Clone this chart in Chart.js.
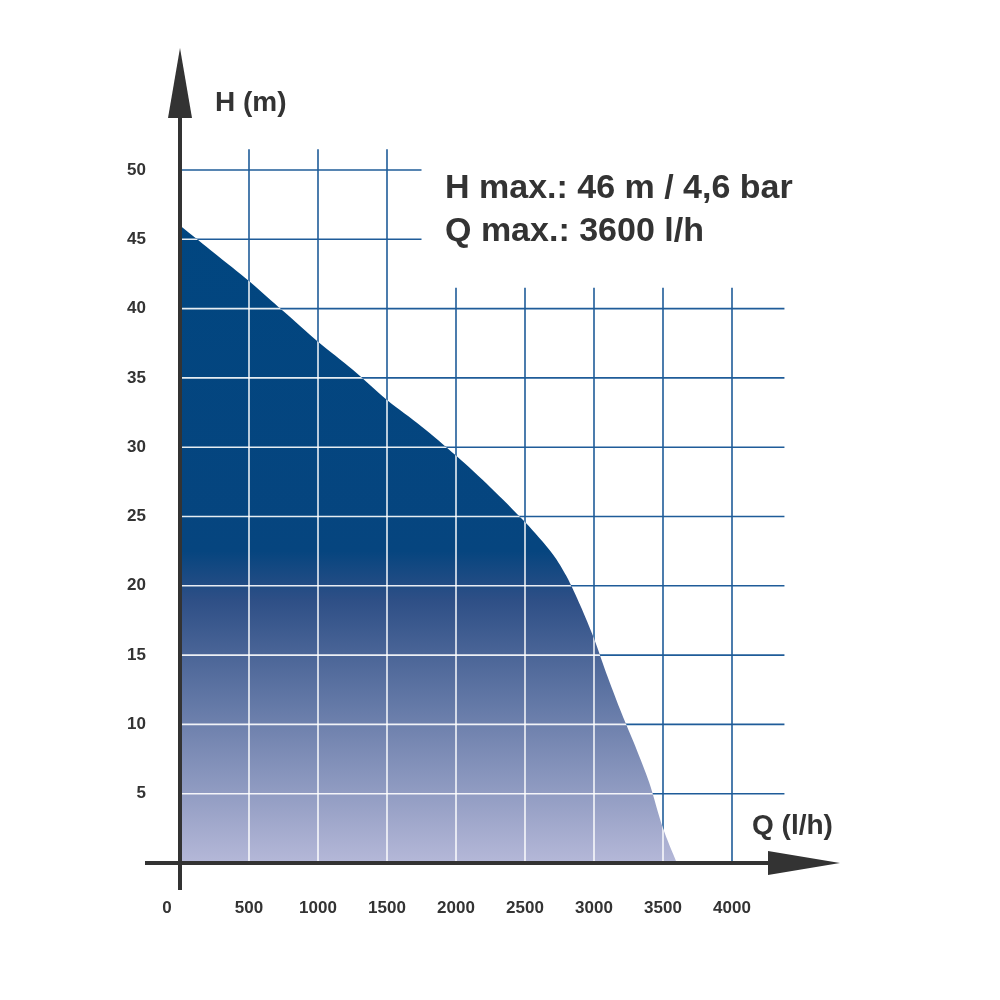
<!DOCTYPE html>
<html><head><meta charset="utf-8">
<script src="https://cdn.jsdelivr.net/npm/chart.js@4"></script>
<style>html,body{margin:0;background:#fff}#c{width:1000px;height:1000px}</style>
</head><body><div id="c"><canvas id="cv" width="1000" height="1000"></canvas></div>
<script>
const flowQ = [0, 250, 500, 750, 1000, 1250, 1500, 1750, 2000, 2250, 2500, 2700, 2800, 2900, 3000, 3100, 3200, 3300, 3400, 3500, 3600];
const headH = [46, 44, 42, 39.8, 37.6, 35.6, 33.4, 31.5, 29.4, 27.1, 24.6, 22.3, 20.7, 18.6, 16.2, 13.4, 10.8, 8.4, 5.8, 2.5, 0];
const xTicks = [0, 500, 1000, 1500, 2000, 2500, 3000, 3500, 4000];
const yTicks = [5, 10, 15, 20, 25, 30, 35, 40, 45, 50];
const note1 = "H max.: 46 m / 4,6 bar";
const note2 = "Q max.: 3600 l/h";

const gridBlue = '#1f5c99';
function gridLines(x, y){
  const L=[];
  // vertical
  [500,1000,1500].forEach(v=>L.push([x(v),y(51.5),x(v),y(0)]));
  [2000,2500,3000,3500,4000].forEach(v=>L.push([x(v),y(41.5),x(v),y(0)]));
  [45,50].forEach(v=>L.push([x(0),y(v),x(1750),y(v)]));
  [5,10,15,20,25,30,35,40].forEach(v=>L.push([x(0),y(v),x(4380),y(v)]));
  return L;
}
const plug = {
  id:'custom',
  beforeDatasetsDraw(ch){
    const c=ch.ctx, xs=ch.scales.x, ys=ch.scales.y;
    const x=v=>xs.getPixelForValue(v), y=v=>ys.getPixelForValue(v);
    c.save(); c.strokeStyle=gridBlue; c.lineWidth=1.6;
    gridLines(x,y).forEach(l=>{c.beginPath();c.moveTo(l[0],l[1]);c.lineTo(l[2],l[3]);c.stroke();});
    c.restore();
  },
  afterDatasetsDraw(ch){
    const c=ch.ctx, xs=ch.scales.x, ys=ch.scales.y;
    const x=v=>xs.getPixelForValue(v), y=v=>ys.getPixelForValue(v);
    c.save();
    c.beginPath(); c.moveTo(x(0),y(0));
    flowQ.forEach((q,i)=>c.lineTo(x(q),y(headH[i])));
    c.closePath(); c.clip();
    c.strokeStyle='rgba(255,255,255,0.9)'; c.lineWidth=1.6;
    gridLines(x,y).forEach(l=>{c.beginPath();c.moveTo(l[0],l[1]);c.lineTo(l[2],l[3]);c.stroke();});
    c.restore();
    // axes
    c.save(); c.strokeStyle='#333'; c.fillStyle='#333'; c.lineWidth=4;
    c.beginPath(); c.moveTo(x(0),890); c.lineTo(x(0),85); c.stroke();
    c.beginPath(); c.moveTo(145,y(0)); c.lineTo(800,y(0)); c.stroke();
    c.beginPath(); c.moveTo(x(0),48); c.lineTo(x(0)-12,118); c.lineTo(x(0)+12,118); c.closePath(); c.fill();
    c.beginPath(); c.moveTo(840,y(0)); c.lineTo(768,y(0)-12); c.lineTo(768,y(0)+12); c.closePath(); c.fill();
    // tick labels
    c.font='bold 17px "Liberation Sans", Arial, sans-serif'; c.fillStyle='#333';
    c.textAlign='center'; c.textBaseline='middle';
    xTicks.forEach(v=>c.fillText(String(v), v===0? 167 : x(v), 908));
    c.textAlign='right';
    yTicks.forEach(v=>c.fillText(String(v), 146, y(v)));
    c.textAlign='left';
    c.font='bold 28px "Liberation Sans", Arial, sans-serif';
    c.fillText('H (m)', 215, 103);
    c.fillText('Q (l/h)', 752, 826);
    c.font='bold 34px "Liberation Sans", Arial, sans-serif';
    c.fillText(note1, 445, 189);
    c.fillText(note2, 445, 232);
    c.restore();
  }
};
const ctx=document.getElementById('cv').getContext('2d');
new Chart(ctx,{
  type:'line',
  data:{datasets:[{
    data:flowQ.map((q,i)=>({x:q,y:headH[i]})),
    borderWidth:0, pointRadius:0, tension:0.3, fill:'origin',
    backgroundColor:(cx)=>{
      const a=cx.chart.chartArea; if(!a) return '#0a4a80';
      const g=cx.chart.ctx.createLinearGradient(0,a.top,0,a.bottom);
      g.addColorStop(0,'#004680'); g.addColorStop(0.55,'#06457f'); g.addColorStop(0.62,'#2e4f86');
      g.addColorStop(1,'#b5b8d8'); return g;
    }
  }]},
  options:{
    responsive:false, animation:false,
    layout:{padding:{left:180,right:268,top:170,bottom:137}},
    plugins:{legend:{display:false},tooltip:{enabled:false}},
    scales:{
      x:{type:'linear',min:0,max:4000,display:false},
      y:{min:0,max:50,display:false}
    }
  },
  plugins:[plug]
});
</script></body></html>
